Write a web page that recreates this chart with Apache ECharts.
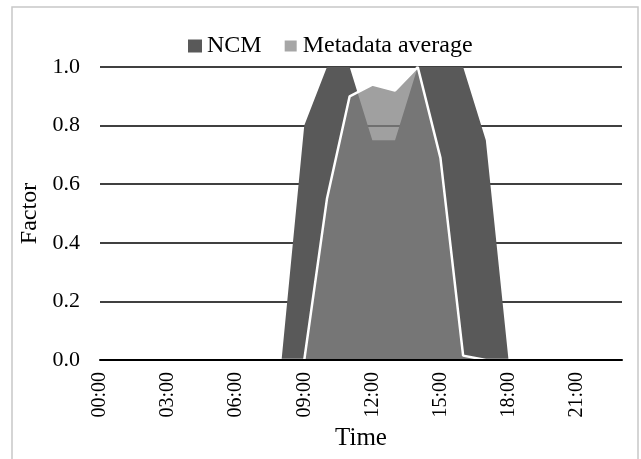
<!DOCTYPE html>
<html><head><meta charset="utf-8">
<script src="https://cdn.jsdelivr.net/npm/echarts@6/dist/echarts.min.js"></script>
<style>html,body{margin:0;padding:0;background:#fff}#c{width:641px;height:459px}</style>
</head><body><div id="c"></div>
<script>
const hours = ['00:00','01:00','02:00','03:00','04:00','05:00','06:00','07:00','08:00','09:00','10:00','11:00',
               '12:00','13:00','14:00','15:00','16:00','17:00','18:00','19:00','20:00','21:00','22:00','23:00'];
const ncm = [0,0,0,0,0,0,0,0,0,0.8,1,1,0.75,0.75,1,1,1,0.75,0,0,0,0,0,0];
const metadataAvg = [0,0,0,0,0,0,0,0,0,0,0.55,0.9,0.94,0.92,1,0.69,0.015,0,0,0,0,0,0,0];
const yTicks = [0,0.2,0.4,0.6,0.8,1.0];

const FONT = '"Liberation Serif", "Times New Roman", serif';
const chart = echarts.init(document.getElementById('c'), null, {renderer:'canvas'});
chart.setOption({
  animation:false,
  backgroundColor:'#fff',
  graphic:[{type:'rect', shape:{x:12, y:7, width:626, height:480}, style:{fill:'none', stroke:'#c8c8c8', lineWidth:1.5}, z:-1}],
  legend:{
    top:29, left:183, icon:'rect', itemWidth:14, itemHeight:13, itemGap:21,
    textStyle:{fontFamily:FONT, fontSize:24, color:'#000'},
    data:[{name:'NCM', itemStyle:{color:'#595959'}},
          {name:'Metadata average', itemStyle:{color:'#a6a6a6', borderColor:'#fff', borderWidth:2}}]
  },
  grid:{left:100, right:19, top:67, bottom:99, containLabel:false},
  xAxis:{
    type:'category', data:hours, boundaryGap:false, z:5,
    name:'Time', nameLocation:'middle', nameGap:60,
    nameTextStyle:{fontFamily:FONT, fontSize:25, color:'#000'},
    axisLine:{lineStyle:{color:'#000', width:2}},
    axisTick:{show:false},
    axisLabel:{interval:2, rotate:90, margin:12, fontFamily:FONT, fontSize:20, color:'#000'}
  },
  yAxis:{
    type:'value', min:0, max:1, interval:0.2,
    name:'Factor', nameLocation:'middle', nameGap:55,
    nameTextStyle:{fontFamily:FONT, fontSize:24, color:'#000'},
    axisLine:{show:false}, axisTick:{show:false},
    axisLabel:{margin:20, fontFamily:FONT, fontSize:22, color:'#000', formatter:v=>v.toFixed(1)},
    splitLine:{lineStyle:{color:'#000', width:1.5}}
  },
  series:[
    {name:'NCM', type:'line', data:ncm, symbol:'none', z:2,
     itemStyle:{color:'#595959'}, lineStyle:{width:0, color:'#595959'},
     areaStyle:{color:'#595959', opacity:1}},
    {name:'Metadata average', type:'line', data:metadataAvg, symbol:'none', z:3,
     itemStyle:{color:'#a6a6a6'}, lineStyle:{width:2.5, color:'#fff'},
     areaStyle:{color:'#808080', opacity:0.75}}
  ]
});
</script></body></html>
